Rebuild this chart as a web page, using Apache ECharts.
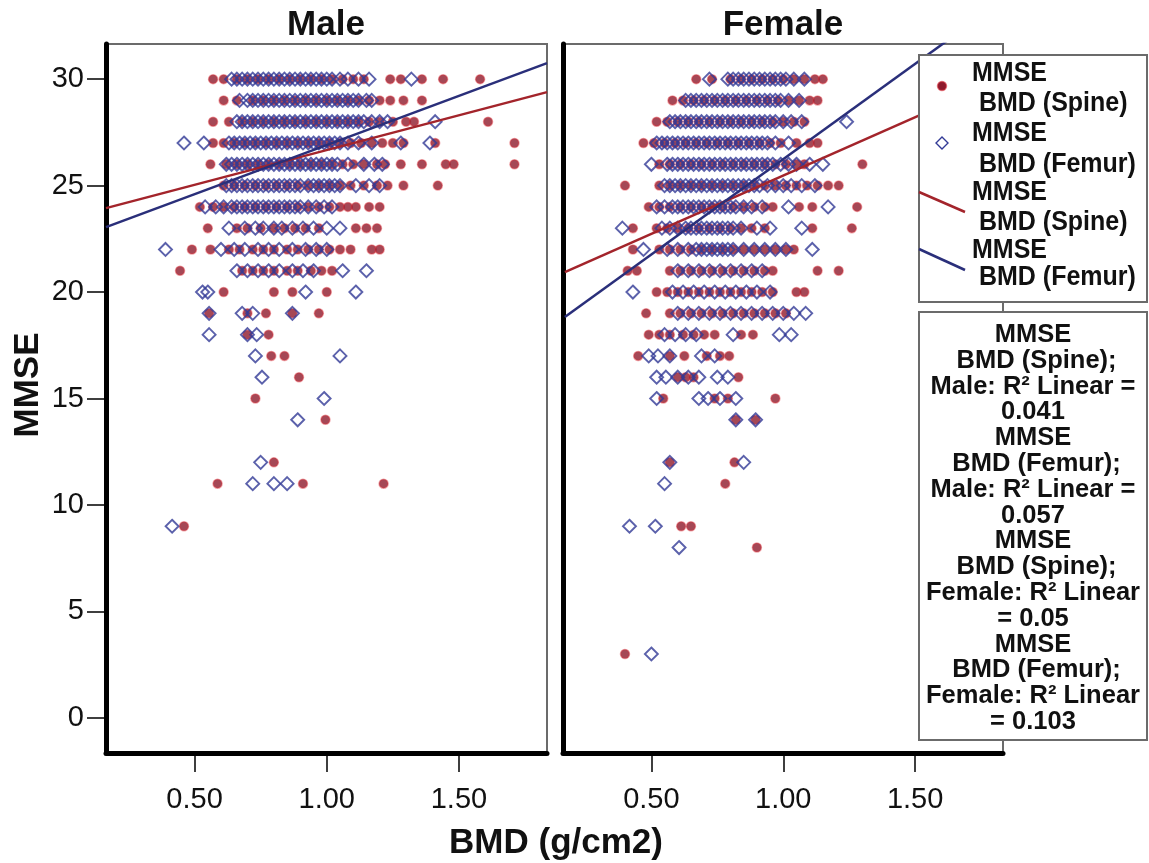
<!DOCTYPE html>
<html>
<head>
<meta charset="utf-8">
<script src="https://cdn.jsdelivr.net/npm/echarts@6/dist/echarts.min.js"></script>
<style>
  html, body { margin: 0; padding: 0; background: #fff; }
  #chart { width: 1149px; height: 863px; }
</style>
</head>
<body>
<div id="chart"></div>
<script>
// tick labels
const xTicks = [0.5, 1.0, 1.5];
const yTicks = [0, 5, 10, 15, 20, 25, 30];

// rows: [MMSE score, [BMD values]]
const maleSpine = [
  [30, [0.57, 0.61, 0.66, 0.70, 0.74, 0.78, 0.82, 0.86, 0.90, 0.94, 0.98, 1.02, 1.06, 1.10, 1.14, 1.24, 1.28, 1.36, 1.44, 1.58]],
  [29, [0.61, 0.66, 0.72, 0.76, 0.80, 0.84, 0.88, 0.92, 0.96, 1.00, 1.04, 1.08, 1.12, 1.16, 1.20, 1.24, 1.29, 1.36]],
  [28, [0.57, 0.63, 0.68, 0.72, 0.76, 0.80, 0.84, 0.88, 0.92, 0.96, 1.00, 1.04, 1.08, 1.12, 1.16, 1.20, 1.25, 1.30, 1.33, 1.61]],
  [27, [0.57, 0.61, 0.65, 0.69, 0.73, 0.77, 0.81, 0.85, 0.89, 0.93, 0.97, 1.01, 1.05, 1.09, 1.13, 1.17, 1.21, 1.25, 1.29, 1.41, 1.71]],
  [26, [0.56, 0.62, 0.66, 0.70, 0.74, 0.78, 0.82, 0.86, 0.90, 0.94, 0.98, 1.02, 1.06, 1.10, 1.14, 1.19, 1.22, 1.28, 1.36, 1.45, 1.48, 1.71]],
  [25, [0.61, 0.65, 0.69, 0.73, 0.77, 0.81, 0.85, 0.89, 0.93, 0.97, 1.01, 1.05, 1.09, 1.14, 1.19, 1.23, 1.29, 1.42]],
  [24, [0.52, 0.57, 0.61, 0.65, 0.69, 0.73, 0.77, 0.81, 0.85, 0.89, 0.93, 0.97, 1.01, 1.05, 1.08, 1.11, 1.16, 1.20]],
  [23, [0.55, 0.66, 0.70, 0.75, 0.80, 0.84, 0.88, 0.92, 0.97, 1.11, 1.15, 1.19]],
  [22, [0.49, 0.56, 0.63, 0.67, 0.72, 0.76, 0.80, 0.85, 0.89, 0.93, 0.97, 1.01, 1.05, 1.09, 1.17, 1.20]],
  [21, [0.445, 0.68, 0.72, 0.76, 0.80, 0.85, 0.89, 0.94, 0.98, 1.02]],
  [20, [0.61, 0.80, 0.87, 1.00]],
  [19, [0.555, 0.70, 0.77, 0.87, 0.97]],
  [18, [0.70, 0.78]],
  [17, [0.79, 0.84]],
  [16, [0.895]],
  [15, [0.73]],
  [14, [0.995]],
  [12, [0.80]],
  [11, [0.587, 0.91, 1.215]],
  [9, [0.46]]
];
const maleFemur = [
  [30, [0.64, 0.66, 0.68, 0.70, 0.72, 0.74, 0.76, 0.78, 0.80, 0.82, 0.84, 0.86, 0.88, 0.90, 0.92, 0.94, 0.96, 0.98, 1.00, 1.02, 1.05, 1.08, 1.12, 1.16, 1.32]],
  [29, [0.67, 0.70, 0.72, 0.74, 0.76, 0.78, 0.80, 0.82, 0.84, 0.86, 0.88, 0.90, 0.92, 0.94, 0.96, 0.98, 1.00, 1.02, 1.04, 1.06, 1.08, 1.10, 1.12, 1.15, 1.17]],
  [28, [0.66, 0.68, 0.70, 0.72, 0.74, 0.76, 0.78, 0.80, 0.82, 0.84, 0.86, 0.88, 0.90, 0.92, 0.94, 0.96, 0.98, 1.00, 1.02, 1.04, 1.06, 1.08, 1.10, 1.12, 1.14, 1.17, 1.20, 1.23, 1.41]],
  [27, [0.46, 0.535, 0.63, 0.65, 0.67, 0.69, 0.71, 0.73, 0.75, 0.77, 0.79, 0.81, 0.83, 0.85, 0.87, 0.89, 0.91, 0.93, 0.95, 0.97, 0.99, 1.01, 1.03, 1.05, 1.08, 1.12, 1.17, 1.28, 1.39]],
  [26, [0.62, 0.64, 0.66, 0.68, 0.70, 0.72, 0.74, 0.76, 0.78, 0.80, 0.82, 0.84, 0.86, 0.88, 0.90, 0.92, 0.94, 0.96, 0.98, 1.00, 1.02, 1.04, 1.08, 1.14, 1.18, 1.21]],
  [25, [0.62, 0.64, 0.66, 0.68, 0.70, 0.72, 0.74, 0.76, 0.78, 0.80, 0.82, 0.84, 0.86, 0.88, 0.90, 0.93, 0.95, 0.97, 0.99, 1.01, 1.03, 1.05, 1.11, 1.16, 1.20]],
  [24, [0.54, 0.58, 0.61, 0.64, 0.66, 0.68, 0.70, 0.72, 0.74, 0.76, 0.78, 0.80, 0.82, 0.84, 0.86, 0.88, 0.90, 0.93, 0.96, 0.99, 1.02]],
  [23, [0.63, 0.69, 0.73, 0.76, 0.80, 0.83, 0.87, 0.91, 0.95, 1.00, 1.05]],
  [22, [0.39, 0.60, 0.65, 0.69, 0.74, 0.78, 0.82, 0.87, 0.92, 0.96, 1.00]],
  [21, [0.66, 0.70, 0.74, 0.78, 0.82, 0.87, 0.91, 0.95, 1.06, 1.15]],
  [20, [0.53, 0.55, 0.92, 1.11]],
  [19, [0.555, 0.68, 0.72, 0.87]],
  [18, [0.555, 0.70, 0.735]],
  [17, [0.73, 1.05]],
  [16, [0.755]],
  [15, [0.99]],
  [14, [0.89]],
  [12, [0.75]],
  [11, [0.72, 0.80, 0.85]],
  [9, [0.415]]
];
const femaleSpine = [
  [30, [0.67, 0.73, 0.80, 0.84, 0.88, 0.92, 0.96, 1.00, 1.04, 1.08, 1.12, 1.15]],
  [29, [0.58, 0.62, 0.66, 0.70, 0.74, 0.78, 0.82, 0.86, 0.90, 0.94, 0.98, 1.02, 1.06, 1.10, 1.13]],
  [28, [0.52, 0.56, 0.60, 0.64, 0.68, 0.72, 0.76, 0.80, 0.84, 0.88, 0.92, 0.96, 1.00, 1.04, 1.08]],
  [27, [0.47, 0.51, 0.55, 0.59, 0.63, 0.67, 0.71, 0.75, 0.79, 0.83, 0.87, 0.91, 0.95, 0.99, 1.05, 1.10, 1.13]],
  [26, [0.53, 0.57, 0.61, 0.65, 0.69, 0.73, 0.77, 0.81, 0.85, 0.89, 0.93, 0.97, 1.01, 1.05, 1.08, 1.30]],
  [25, [0.40, 0.53, 0.57, 0.61, 0.65, 0.69, 0.73, 0.77, 0.81, 0.85, 0.89, 0.93, 0.97, 1.01, 1.05, 1.09, 1.13, 1.17, 1.21]],
  [24, [0.49, 0.53, 0.57, 0.61, 0.65, 0.69, 0.73, 0.77, 0.81, 0.85, 0.89, 0.93, 0.96, 1.06, 1.11, 1.28]],
  [23, [0.43, 0.52, 0.56, 0.60, 0.64, 0.68, 0.72, 0.76, 0.80, 0.84, 0.88, 0.93, 1.11, 1.26]],
  [22, [0.43, 0.53, 0.57, 0.61, 0.65, 0.69, 0.73, 0.77, 0.81, 0.85, 0.89, 0.93, 0.97, 1.01, 1.04]],
  [21, [0.41, 0.445, 0.57, 0.61, 0.65, 0.69, 0.73, 0.77, 0.81, 0.85, 0.89, 0.93, 0.96, 1.13, 1.21]],
  [20, [0.52, 0.56, 0.60, 0.64, 0.68, 0.72, 0.76, 0.80, 0.84, 0.88, 0.92, 0.96, 1.05, 1.08]],
  [19, [0.48, 0.57, 0.61, 0.65, 0.69, 0.73, 0.77, 0.81, 0.85, 0.89, 0.93, 0.97, 1.01]],
  [18, [0.49, 0.53, 0.57, 0.62, 0.66, 0.70, 0.74, 0.84, 0.885]],
  [17, [0.45, 0.57, 0.625, 0.71, 0.76, 0.795]],
  [16, [0.60, 0.63, 0.66, 0.83]],
  [15, [0.545, 0.74, 0.79, 0.97]],
  [14, [0.82, 0.895]],
  [12, [0.57, 0.815]],
  [11, [0.78]],
  [9, [0.613, 0.65]],
  [8, [0.90]],
  [3, [0.40]]
];
const femaleFemur = [
  [30, [0.72, 0.79, 0.81, 0.83, 0.85, 0.87, 0.89, 0.91, 0.93, 0.95, 0.97, 0.99, 1.01, 1.04, 1.08]],
  [29, [0.63, 0.65, 0.67, 0.69, 0.71, 0.73, 0.75, 0.77, 0.79, 0.81, 0.83, 0.85, 0.87, 0.89, 0.91, 0.93, 0.95, 0.97, 0.99, 1.02, 1.06]],
  [28, [0.57, 0.59, 0.61, 0.63, 0.65, 0.67, 0.69, 0.71, 0.73, 0.75, 0.77, 0.79, 0.81, 0.83, 0.85, 0.87, 0.89, 0.91, 0.93, 0.95, 0.97, 1.00, 1.03, 1.07, 1.24]],
  [27, [0.52, 0.54, 0.56, 0.58, 0.60, 0.62, 0.64, 0.66, 0.68, 0.70, 0.72, 0.74, 0.76, 0.78, 0.80, 0.82, 0.84, 0.86, 0.88, 0.90, 0.92, 0.94, 0.97, 1.02]],
  [26, [0.50, 0.56, 0.58, 0.60, 0.62, 0.64, 0.66, 0.68, 0.70, 0.72, 0.74, 0.76, 0.78, 0.80, 0.82, 0.84, 0.86, 0.88, 0.90, 0.92, 0.94, 0.96, 0.99, 1.02, 1.05, 1.10, 1.15]],
  [25, [0.55, 0.57, 0.59, 0.61, 0.63, 0.65, 0.67, 0.69, 0.71, 0.73, 0.75, 0.77, 0.79, 0.81, 0.83, 0.85, 0.87, 0.89, 0.91, 0.94, 0.97, 1.00, 1.03, 1.07, 1.12]],
  [24, [0.52, 0.55, 0.58, 0.60, 0.62, 0.64, 0.66, 0.68, 0.70, 0.72, 0.74, 0.76, 0.78, 0.80, 0.82, 0.85, 0.88, 0.92, 1.02, 1.17]],
  [23, [0.39, 0.54, 0.57, 0.60, 0.63, 0.65, 0.67, 0.69, 0.71, 0.73, 0.75, 0.77, 0.79, 0.81, 0.84, 0.90, 0.95, 1.07]],
  [22, [0.47, 0.56, 0.60, 0.64, 0.67, 0.69, 0.71, 0.73, 0.75, 0.77, 0.79, 0.81, 0.85, 0.89, 0.93, 0.97, 1.01, 1.11]],
  [21, [0.60, 0.64, 0.68, 0.72, 0.76, 0.80, 0.84, 0.88, 0.92]],
  [20, [0.43, 0.58, 0.62, 0.66, 0.70, 0.74, 0.78, 0.82, 0.86, 0.90, 0.95]],
  [19, [0.60, 0.64, 0.68, 0.72, 0.76, 0.80, 0.84, 0.88, 0.92, 0.96, 1.00, 1.04, 1.085]],
  [18, [0.55, 0.59, 0.63, 0.67, 0.81, 0.985, 1.03]],
  [17, [0.49, 0.525, 0.57, 0.69, 0.74]],
  [16, [0.52, 0.555, 0.60, 0.64, 0.68, 0.75, 0.79]],
  [15, [0.52, 0.68, 0.715, 0.76, 0.82]],
  [14, [0.82, 0.895]],
  [12, [0.57, 0.85]],
  [11, [0.55]],
  [9, [0.417, 0.515]],
  [8, [0.605]],
  [3, [0.50]]
];

// fit lines at the panel edges: [BMD, MMSE]
const maleSpineFit = [[0.165, 23.94], [1.833, 29.39]];
const maleFemurFit = [[0.165, 23.05], [1.833, 30.75]];
const femaleSpineFit = [[0.172, 20.94], [1.833, 30.04]];
const femaleFemurFit = [[0.172, 18.83], [1.833, 33.7]];

const legendLabels = ['MMSE', ' BMD (Spine)', 'MMSE', ' BMD (Femur)', 'MMSE', ' BMD (Spine)', 'MMSE', ' BMD (Femur)'];
const statLines = [
  'MMSE', ' BMD (Spine);', 'Male: R² Linear =', '0.041',
  'MMSE', ' BMD (Femur);', 'Male: R² Linear =', '0.057',
  'MMSE', ' BMD (Spine);', 'Female: R² Linear', '= 0.05',
  'MMSE', ' BMD (Femur);', 'Female: R² Linear', '= 0.103'
];

const RED = '#8e1a2c';
const NAVY = '#323a96';
const LINE_RED = '#a3242b';
const LINE_BLUE = '#2a2f7a';
const FONT = 'Liberation Sans, Arial, sans-serif';

function toPoints(rows) {
  const out = [];
  rows.forEach(function (r) {
    r[1].forEach(function (v) { out.push([v, r[0]]); });
  });
  return out;
}

const chart = echarts.init(document.getElementById('chart'));

function xAxisFor(idx) {
  return {
    type: 'value', gridIndex: idx, min: 0.165, max: 1.833,
    axisLine: { show: true, onZero: false, lineStyle: { color: '#000', width: 5 } },
    axisTick: { show: true, inside: false, length: 19, customValues: xTicks, lineStyle: { color: '#000', width: 1.5 } },
    axisLabel: { show: true, margin: 32, customValues: xTicks, color: '#111', fontSize: 29, fontFamily: FONT,
      formatter: function (v) { return v.toFixed(2); } },
    splitLine: { show: false }
  };
}

function scatter(name, rows, idx, fem) {
  return {
    name: name, type: 'scatter', xAxisIndex: idx, yAxisIndex: idx,
    data: toPoints(rows),
    symbol: fem ? 'diamond' : 'circle',
    symbolSize: fem ? 13 : 9,
    itemStyle: fem
      ? { color: 'rgba(0,0,0,0)', borderColor: NAVY, borderWidth: 1.9 }
      : { color: RED, borderColor: 'rgba(220,50,60,0.55)', borderWidth: 1.5 },
    silent: true, animation: false
  };
}

function fit(rows, idx, color) {
  return {
    type: 'line', xAxisIndex: idx, yAxisIndex: idx, data: rows,
    symbol: 'none', clip: true, z: 5,
    lineStyle: { color: color, width: 2.5 }, silent: true, animation: false
  };
}

function label(t, x, y, size, align, extra) {
  const el = { type: 'text', z: 102, style: { text: t, x: x, y: y, textAlign: align, textVerticalAlign: 'middle', font: 'bold ' + size + 'px ' + FONT, fill: '#111' } };
  return Object.assign(el, extra || {});
}

const graphics = [
  label('Male', 326, 25, 35, 'center'),
  label('Female', 783, 25, 35, 'center'),
  { type: 'text', z: 100, x: 28, y: 385, rotation: Math.PI / 2, style: { text: 'MMSE', x: 0, y: 0, textAlign: 'center', textVerticalAlign: 'middle', font: 'bold 35px ' + FONT, fill: '#111' } },
  label('BMD (g/cm2)', 556, 843, 35, 'center'),
  // legend box
  { type: 'rect', z: 100, shape: { x: 919, y: 55, width: 228, height: 247 }, style: { fill: '#fff', stroke: '#6b6b6b', lineWidth: 2 } },
  { type: 'circle', z: 101, shape: { cx: 942, cy: 86, r: 4.5 }, style: { fill: RED, stroke: 'rgba(220,50,60,0.55)', lineWidth: 1.5 } },
  { type: 'polygon', z: 101, shape: { points: [[942, 137], [948, 143], [942, 149], [936, 143]] }, style: { fill: 'none', stroke: NAVY, lineWidth: 1.4 } },
  { type: 'line', z: 101, shape: { x1: 919, y1: 192, x2: 965, y2: 212 }, style: { stroke: LINE_RED, lineWidth: 2.5 } },
  { type: 'line', z: 101, shape: { x1: 919, y1: 249, x2: 965, y2: 270 }, style: { stroke: LINE_BLUE, lineWidth: 2.5 } },
  // stats box
  { type: 'rect', z: 100, shape: { x: 919, y: 312, width: 228, height: 428 }, style: { fill: '#fff', stroke: '#6b6b6b', lineWidth: 2 } }
];
const legendY = [73, 103, 133, 164, 192, 222, 250, 277];
legendLabels.forEach(function (t, i) {
  graphics.push(label(t, 972, legendY[i], 25, 'left', { scaleY: 1.12, originY: legendY[i] }));
});
statLines.forEach(function (t, i) {
  graphics.push(label(t, 1033, 335 + i * 25.8, 25.5, 'center'));
});

const option = {
  backgroundColor: '#fff',
  animation: false,
  grid: [
    { left: 106, top: 44, width: 441, height: 709, show: true, borderColor: '#6b6b6b', borderWidth: 2, containLabel: false },
    { left: 563, top: 44, width: 440, height: 709, show: true, borderColor: '#6b6b6b', borderWidth: 2, containLabel: false }
  ],
  xAxis: [xAxisFor(0), xAxisFor(1)],
  yAxis: [
    {
      type: 'value', gridIndex: 0, min: -1.65, max: 31.65,
      axisLine: { show: true, onZero: false, lineStyle: { color: '#000', width: 5 } },
      axisTick: { show: true, inside: false, length: 19, customValues: yTicks, lineStyle: { color: '#000', width: 1.5 } },
      axisLabel: { show: true, margin: 22, customValues: yTicks, color: '#111', fontSize: 29, fontFamily: FONT },
      splitLine: { show: false }
    },
    {
      type: 'value', gridIndex: 1, min: -1.65, max: 31.65,
      axisLine: { show: true, onZero: false, lineStyle: { color: '#000', width: 5 } },
      axisTick: { show: false }, axisLabel: { show: false }, splitLine: { show: false }
    }
  ],
  graphic: graphics,
  series: [
    scatter('Male spine', maleSpine, 0, false),
    scatter('Male femur', maleFemur, 0, true),
    scatter('Female spine', femaleSpine, 1, false),
    scatter('Female femur', femaleFemur, 1, true),
    fit(maleSpineFit, 0, LINE_RED),
    fit(maleFemurFit, 0, LINE_BLUE),
    fit(femaleSpineFit, 1, LINE_RED),
    fit(femaleFemurFit, 1, LINE_BLUE)
  ]
};

chart.setOption(option);
</script>
</body>
</html>
